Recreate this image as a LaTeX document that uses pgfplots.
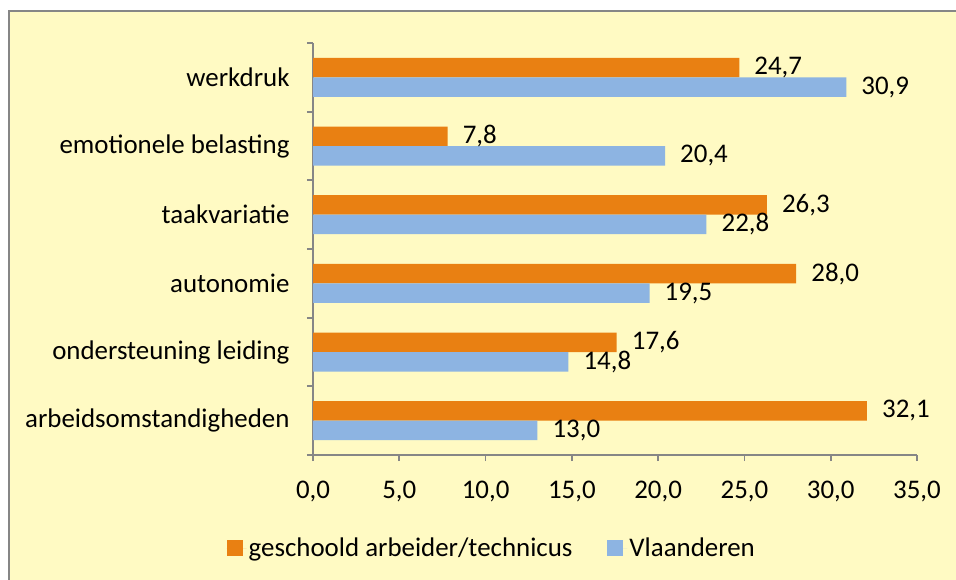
\documentclass[border=0pt]{standalone}
\usepackage{fontspec}
\setmainfont{Carlito}
\usepackage{pgfplots}
\pgfplotsset{compat=1.18}
\definecolor{bgyellow}{RGB}{255,250,195}
\definecolor{barorange}{RGB}{233,128,18}
\definecolor{barblue}{RGB}{141,180,226}
\definecolor{axisgray}{RGB}{134,134,134}
\newcommand{\chartfont}{\fontsize{27}{32}\selectfont}

\begin{document}
\begin{tikzpicture}
\useasboundingbox (0bp,0bp) rectangle (956bp,-580bp);
\fill[white] (0bp,0bp) rectangle (956bp,-580bp);
\fill[bgyellow] (8.5bp,-10.5bp) rectangle (960bp,-590bp);
\draw[axisgray, line width=2bp] (8.5bp,-590bp) -- (8.5bp,-10.5bp) -- (960bp,-10.5bp);
\begin{axis}[
  at={(313bp,-455bp)}, anchor=south west,
  scale only axis, width=604bp, height=412bp,
  xbar, bar width=19.5bp,
  xmin=0, xmax=35, ymin=0.5, ymax=6.5,
  axis x line*=bottom, axis y line*=left,
  axis line style={axisgray, line width=1.8bp, -},
  tick style={axisgray, line width=1.8bp},
  tick align=outside, major tick length=6bp,
  xtick={0,5,...,35},
  ytick={0.5,1.5,...,6.5}, yticklabels={},
  extra y ticks={1,...,6},
  extra y tick labels={arbeidsomstandigheden, ondersteuning leiding, autonomie, taakvariatie, emotionele belasting, werkdruk},
  extra y tick style={tick style={draw=none}, yticklabel style={xshift=-14bp}},
  ticklabel style={font=\chartfont, black},
  xticklabel style={yshift=-17bp},
  /pgf/number format/fixed, /pgf/number format/fixed zerofill,
  /pgf/number format/precision=1, /pgf/number format/use comma,
  /pgf/number format/assume math mode=true,
  nodes near coords,
  nodes near coords style={font=\chartfont, black, anchor=west, inner xsep=15bp},
  clip=false,
  legend columns=2,
  legend style={at={(0.296,-0.226)}, anchor=center, draw=none, fill=none, font=\chartfont,
    /tikz/every even column/.append style={column sep=33bp}},
  legend image code/.code={\fill[#1] (0bp,-8bp) rectangle (16bp,8bp); \path (0bp,0bp) -- (20bp,0bp);},
]
\addplot[fill=barorange, draw=none, bar shift=9.75bp] coordinates {(32.1,1) (17.6,2) (28.0,3) (26.3,4) (7.8,5) (24.7,6)};
\addplot[fill=barblue, draw=none, bar shift=-9.75bp] coordinates {(13.0,1) (14.8,2) (19.5,3) (22.8,4) (20.4,5) (30.9,6)};
\legend{geschoold arbeider/technicus, Vlaanderen}
\end{axis}
\end{tikzpicture}
\end{document}
